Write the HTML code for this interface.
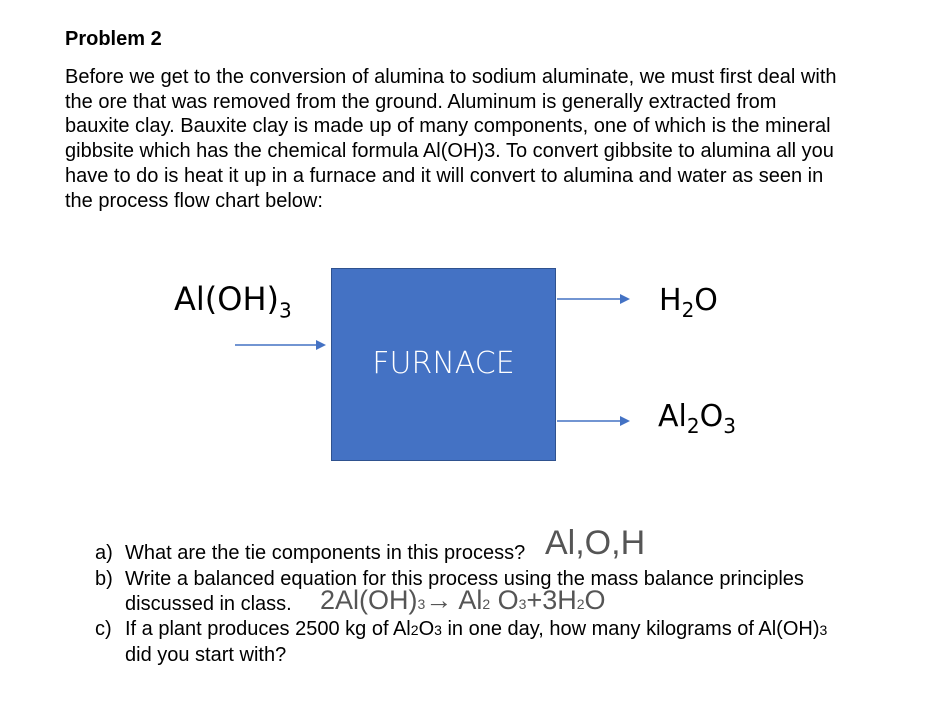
<!DOCTYPE html>
<html><head><meta charset="utf-8"><style>
body{margin:0;width:940px;height:702px;background:#fff;position:relative;font-family:"Liberation Sans",Arial,sans-serif;color:#000;overflow:hidden}
.a{position:absolute;white-space:nowrap}
.p{font-size:20px;line-height:24.7px}
.c{font-family:"DejaVu Sans","Liberation Sans",sans-serif;font-size:30px}
.h{font-family:"Liberation Sans",sans-serif;color:#555;font-weight:300}
</style></head><body>
<div class="a" style="left:65px;top:28px;font-size:20px;font-weight:bold">Problem 2</div>
<div class="a p" style="left:65px;top:65px">Before we get to the conversion of alumina to sodium aluminate, we must first deal with<br>the ore that was removed from the ground. Aluminum is generally extracted from<br>bauxite clay. Bauxite clay is made up of many components, one of which is the mineral<br>gibbsite which has the chemical formula Al(OH)3. To convert gibbsite to alumina all you<br>have to do is heat it up in a furnace and it will convert to alumina and water as seen in<br>the process flow chart below:</div>
<div class="a" style="left:331px;top:268px;width:223px;height:191px;background:#4472c4;border:1px solid #2f528f"></div>
<div class="a" style="left:331px;top:346px;width:225px;text-align:center;color:#fff;font-size:30px;font-family:'DejaVu Sans',sans-serif;font-weight:300">FURNACE</div>
<svg class="a" style="left:0;top:0" width="940" height="702">
<g stroke="#4472c4" stroke-width="1.5" fill="#4472c4">
<line x1="235" y1="345" x2="318" y2="345"/><polygon points="326,345 316,340 316,350" stroke="none"/>
<line x1="557" y1="299" x2="622" y2="299"/><polygon points="630,299 620,294 620,304" stroke="none"/>
<line x1="557" y1="421" x2="622" y2="421"/><polygon points="630,421 620,416 620,426" stroke="none"/>
</g></svg>
<div class="a c" style="left:174px;top:280px;font-size:32px">Al(OH)<sub style="font-size:20px">3</sub></div>
<div class="a c" style="left:659px;top:283px">H<sub style="font-size:20px">2</sub>O</div>
<div class="a c" style="left:658px;top:399px">Al<sub style="font-size:20px">2</sub>O<sub style="font-size:20px">3</sub></div>
<div class="a p" style="left:95px;top:541px">a)</div>
<div class="a p" style="left:125px;top:541px">What are the tie components in this process?</div>
<div class="a h" style="left:545px;top:524px;font-size:34px">Al,O,H</div>
<div class="a p" style="left:95px;top:567px">b)</div>
<div class="a p" style="left:125px;top:567px">Write a balanced equation for this process using the mass balance principles<br>discussed in class.</div>
<div class="a h" style="left:320px;top:585px;font-size:27px">2Al(OH)<span style="font-size:14px">3</span>→ Al<span style="font-size:14px">2</span> O<span style="font-size:14px">3</span>+3H<span style="font-size:14px">2</span>O</div>
<div class="a p" style="left:95px;top:617px">c)</div>
<div class="a p" style="left:125px;top:617px">If a plant produces 2500 kg of Al<span style="font-size:14px">2</span>O<span style="font-size:14px">3</span> in one day, how many kilograms of Al(OH)<span style="font-size:14px">3</span><br>did you start with?</div>
</body></html>
